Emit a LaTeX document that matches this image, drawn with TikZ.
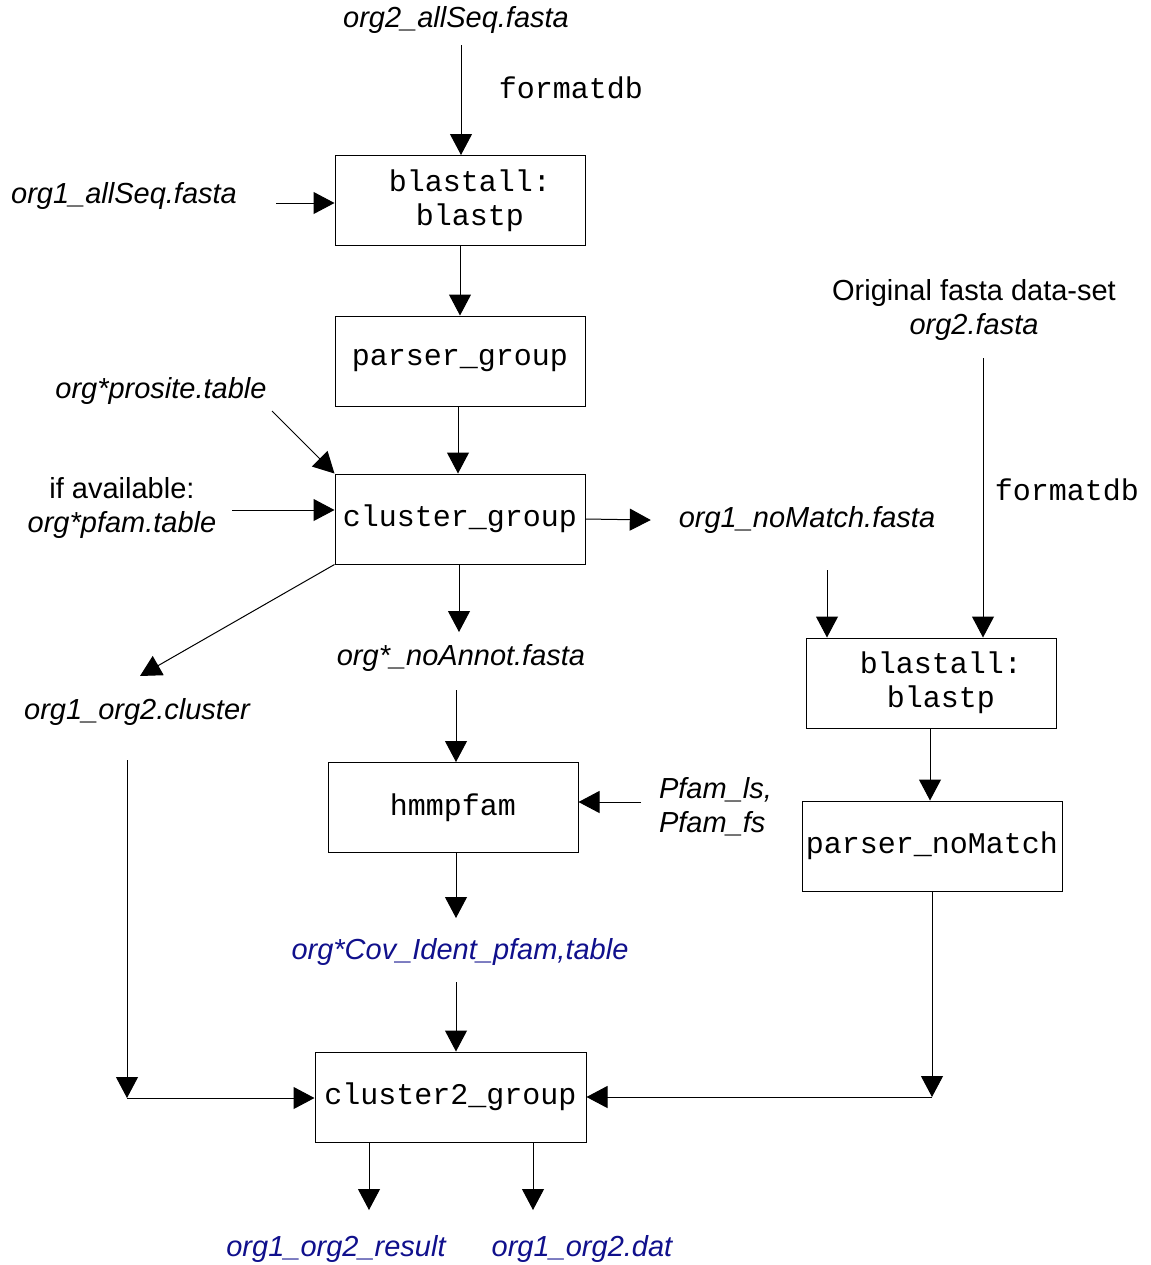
\documentclass[tikz,border=0pt]{standalone}
\usepackage{fontspec}
\setmainfont{Liberation Sans}
\setmonofont{Liberation Mono}
\usepackage{xcolor}
\usetikzlibrary{positioning,arrows.meta}
\definecolor{outblue}{RGB}{16,16,140}

\begin{document}
\begin{tikzpicture}[
    x=0.5pt, y=-0.5pt,
    every node/.style={font=\fontsize{14.5}{17}\selectfont},
    box/.style={draw, line width=0.5pt, minimum width=125pt, minimum height=45pt,
        inner sep=0pt, align=center, font=\ttfamily\fontsize{15}{17}\selectfont},
    file/.style={font=\itshape\fontsize{14.5}{17}\selectfont, align=center},
    result/.style={file, text=outblue},
    cmd/.style={font=\ttfamily\fontsize{15}{17}\selectfont},
    arr/.style={-{Triangle[length=10.5pt, width=11pt]}, line width=0.5pt}
]
\useasboundingbox (0,0) rectangle (1151,1265);

% processing boxes
\node[box] (blastA) at (460,200.5) {\hspace*{10pt}blastall:\\\hspace*{10pt}blastp};
\node[box] (parser) at (460,361) {parser\_group};
\node[box] (cluster) at (460,519) {cluster\_group};
\node[box] (hmm) at (453,807.5) {hmmpfam};
\node[box, minimum width=135.5pt] (clusterB) at (450.5,1097) {cluster2\_group};
\node[box] (blastB) at (931,683) {\hspace*{10pt}blastall:\\\hspace*{10pt}blastp};
\node[box, minimum width=130pt] (parserNM) at (932,846) {parser\_noMatch};

% input and output files
\node[file] (seqB) at (456,20) {org2\_allSeq.fasta};
\node[cmd] (fmtA) at (571,88) {formatdb};
\node[file] (seqA) at (124,196) {org1\_allSeq.fasta};
\node[file] (orig) at (974,310) {\upshape Original fasta data-set\\org2.fasta};
\node[file] (prosite) at (161,391) {org*prosite.table};
\node[file] (pfam) at (122,508) {\upshape if available:\\org*pfam.table};
\node[file] (noMatch) at (807,520) {org1\_noMatch.fasta};
\node[cmd] (fmtB) at (1067,490) {formatdb};
\node[file] (noAnnot) at (461,658) {org*\_noAnnot.fasta};
\node[file] (clustFile) at (137,712) {org1\_org2.cluster};
\node[file, align=left, anchor=west] (pfamDB) at (652,807) {Pfam\_ls,\\Pfam\_fs};
\node[result] (covIdent) at (460,952) {org*Cov\_Ident\_pfam,table};
\node[result] (resFile) at (336,1249) {org1\_org2\_result};
\node[result] (datFile) at (582,1249) {org1\_org2.dat};

% free ends of connectors
\coordinate (cSeqB) at (461,45);
\coordinate (cSeqA) at (276,203);
\coordinate (cProsite) at (272,411);
\coordinate (cPfam) at (232,510);
\coordinate (cClust) at (140,676);
\coordinate (cNoAnnot) at (456,690);
\coordinate (cPfamDB) at (641,802);
\coordinate (cCov) at (456,982);
\coordinate (cClustFile) at (127,760);
\coordinate (cClustCorner) at (127,1098);
\coordinate (cNoMatch) at (827,570);
\coordinate (cOrig) at (983,358);
\coordinate (cNMCorner) at (932,1097);

% main column
\draw[arr] (cSeqB) -- (blastA.north -| cSeqB);
\draw[arr] (cSeqA) -- (blastA.west |- cSeqA);
\draw[arr] (blastA) -- (parser);
\draw[arr] ([xshift=-1pt]parser.south) -- ([xshift=-1pt]cluster.north);
\draw[arr] (cProsite) -- (cluster.north west);
\draw[arr] (cPfam) -- (cluster.west |- cPfam);
\draw[arr] (cluster.east) -- ([xshift=-10.5pt]noMatch.west);
\draw[arr] (cluster.south west) -- (cClust);
\draw[arr] ([xshift=-0.5pt]cluster.south) -- ([xshift=-0.5pt]cluster.south |- 0,632);
\draw[arr] (cNoAnnot) -- (hmm.north -| cNoAnnot);
\draw[arr] (cPfamDB) -- (hmm.east |- cPfamDB);
\draw[arr] (hmm.south -| cNoAnnot) -- (cNoAnnot |- 0,918);
\draw[arr] (cCov) -- (clusterB.north -| cCov);
\draw[arr] (cClustFile) -- (cClustCorner);
\draw[arr] (cClustCorner) -- (clusterB.west |- cClustCorner);

% right column
\draw[arr] (cNoMatch) -- (blastB.north -| cNoMatch);
\draw[arr] (cOrig) -- (blastB.north -| cOrig);
\draw[arr] (blastB.south -| 930,0) -- (parserNM.north -| 930,0);
\draw[arr] (parserNM) -- (cNMCorner);
\draw[arr] (cNMCorner) -- (clusterB.east |- cNMCorner);

% outputs
\draw[arr] (clusterB.south -| 369,0) -- (369,1210);
\draw[arr] (clusterB.south -| 533,0) -- (533,1210);
\end{tikzpicture}
\end{document}
